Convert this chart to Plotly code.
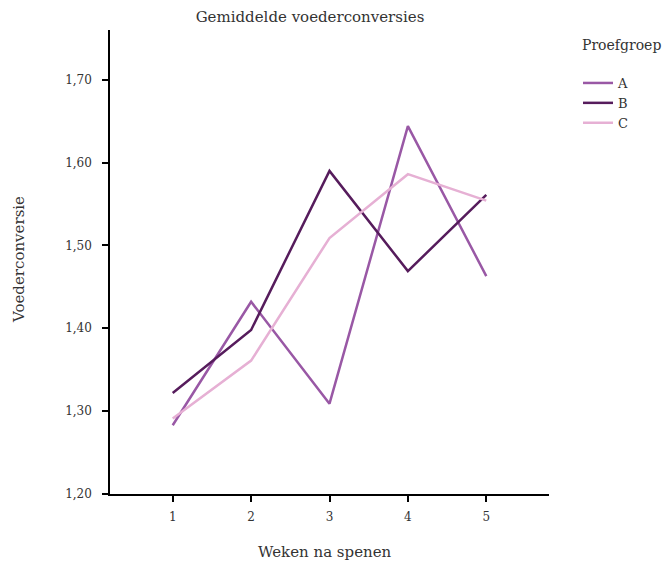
import plotly.graph_objects as go

weeks = [1, 2, 3, 4, 5]
groep_a = [1.283, 1.432, 1.309, 1.644, 1.463]
groep_b = [1.322, 1.398, 1.590, 1.469, 1.561]
groep_c = [1.291, 1.361, 1.509, 1.586, 1.554]
y_ticks = [1.2, 1.3, 1.4, 1.5, 1.6, 1.7]

FONT = "DejaVu Serif"
TXT = "#333"
colors = {"A": "#9958a5", "B": "#561c5c", "C": "#e6b0d4"}

fig = go.Figure()
for name, vals in [("A", groep_a), ("B", groep_b), ("C", groep_c)]:
    fig.add_trace(go.Scatter(x=weeks, y=vals, mode="lines", name=name,
                             line=dict(color=colors[name], width=2.5)))

OFF = 8  # page body margin
W, H = 671, 563
L, T = 110 - OFF, 30 - OFF
R = W - (549 - OFF)
B = H - (494 - OFF)
pw = W - L - R
ph = H - T - B

def px(x):
    return (x - OFF - L) / pw

def py(y):
    return 1 - (y - OFF - T) / ph

fig.update_layout(
    width=W, height=H,
    margin=dict(l=L, r=R, t=T, b=B, autoexpand=False),
    paper_bgcolor="white", plot_bgcolor="white",
    separators=",.",
    font=dict(family=FONT, size=13, color=TXT),
    title=dict(text="Gemiddelde voederconversies", x=(310 - OFF) / W, xanchor="center",
               y=1 - (17 - OFF) / H, yanchor="middle", font=dict(size=15, color=TXT)),
    xaxis=dict(range=[0.2, 5.8], tickvals=weeks, showline=True, linecolor="black",
               linewidth=1.5, ticks="outside", ticklen=6, tickwidth=2, tickcolor="black",
               showgrid=False, zeroline=False, tickfont=dict(size=12),
               ticklabelstandoff=5),
    yaxis=dict(range=[1.2, 1.76], tickvals=y_ticks, tickformat=".2f", showline=True,
               linecolor="black", linewidth=1.5, ticks="outside", ticklen=6, tickwidth=2,
               tickcolor="black", showgrid=False, zeroline=False, tickfont=dict(size=12),
               ticklabelstandoff=8),
    legend=dict(x=px(578), xanchor="left", y=py(68), yanchor="top",
                font=dict(size=13), tracegroupgap=0, itemwidth=30),
    annotations=[
        dict(text="Proefgroep", xref="paper", yref="paper", x=px(580), y=py(45),
             xanchor="left", yanchor="middle", showarrow=False, font=dict(size=14)),
        dict(text="Weken na spenen", xref="paper", yref="paper", x=px(325), y=py(552),
             xanchor="center", yanchor="middle", showarrow=False, font=dict(size=15)),
        dict(text="Voederconversie", xref="paper", yref="paper", x=px(19), y=py(260),
             xanchor="center", yanchor="middle", showarrow=False, textangle=-90,
             font=dict(size=15)),
    ],
)

fig.write_html("out.html")
